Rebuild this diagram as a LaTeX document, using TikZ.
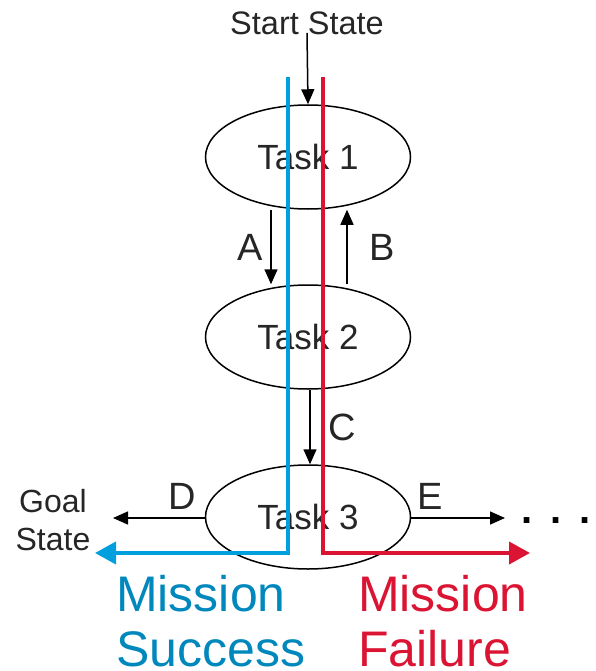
\documentclass[tikz,border=0pt]{standalone}
\usepackage{fontspec}
\setmainfont{Liberation Sans}
\usetikzlibrary{shapes.geometric,arrows.meta}

\definecolor{successblue}{RGB}{0,160,222}
\definecolor{failred}{RGB}{218,20,50}

\tikzset{
	task/.style={draw, line width=1.5pt, ellipse, minimum width=205pt, minimum height=104pt, inner sep=0pt,
		font=\fontsize{35}{40}\selectfont, text=black!85},
	flow/.style={line width=1.5pt, -{Triangle[length=15pt,width=13pt]}},
	lbl/.style={font=\fontsize{38}{42}\selectfont, text=black!85},
	missionpath/.style={line width=4pt, line join=miter, -{Triangle[length=21pt,width=22pt]}},
	mission/.style={font=\fontsize{50}{56}\selectfont, anchor=base west, inner sep=0pt}
}

\begin{document}
\begin{tikzpicture}[x=1pt,y=-1pt]
	\useasboundingbox (0,0) rectangle (595,671);
	% Tasks
	\node[task] (t1) at (308,157) {Task 1};
	\node[task] (t2) at (308,337) {Task 2};
	\node[task] (t3) at (308,517) {Task 3};
	
	% Start and goal
	\node[font=\fontsize{32.5}{34}\selectfont, anchor=base, text=black!85] (start) at (307,35) {Start State};
	\node[font=\fontsize{32}{38}\selectfont, align=center, text=black!85] (goal) at (53,520) {Goal\\State};
	\node[font=\fontsize{40}{44}\selectfont\bfseries, anchor=base] (dots) at (556,523) {.\hspace{18pt}.\hspace{18pt}.};
	
	% Transitions
	\coordinate (ax) at (271,0);
	\coordinate (bx) at (347,0);
	\coordinate (cx) at (310,0);
	\coordinate (dend) at (113,518);
	\coordinate (eend) at (505,518);
	\draw[flow] ([yshift=6pt]start.south) -- (t1.north);
	\draw[flow] (ax |- t1.south) -- (ax |- t2.north) node[lbl, midway, left=4pt] {A};
	\draw[flow] (bx |- t2.north) -- (bx |- t1.south) node[lbl, midway, right=18pt] {B};
	\draw[flow] (cx |- t2.south) -- (cx |- t3.north) node[lbl, midway, right=14pt] {C};
	\draw[flow] (t3.west |- dend) -- (dend) node[lbl, pos=0.25, above=4pt] {D};
	\draw[flow] (t3.east |- eend) -- (eend) node[lbl, pos=0.2, above=4pt] {E};
	
	% Mission paths
	\coordinate (sTop) at (288,77);
	\coordinate (sCorner) at (288,553);
	\coordinate (sEnd) at (95,553);
	\coordinate (fTop) at (323,77);
	\coordinate (fCorner) at (323,553);
	\coordinate (fEnd) at (530,553);
	\draw[missionpath, successblue] (sTop) -- (sCorner) -- (sEnd);
	\draw[missionpath, failred] (fTop) -- (fCorner) -- (fEnd);
	\node[mission, text=successblue!85!black] (success1) at (116,611) {Mission};
	\node[mission, text=successblue!85!black] (success2) at (116,666) {Success};
	\node[mission, text=failred] (failure1) at (358,611) {Mission};
	\node[mission, text=failred] (failure2) at (358,666) {Failure};
\end{tikzpicture}
\end{document}
